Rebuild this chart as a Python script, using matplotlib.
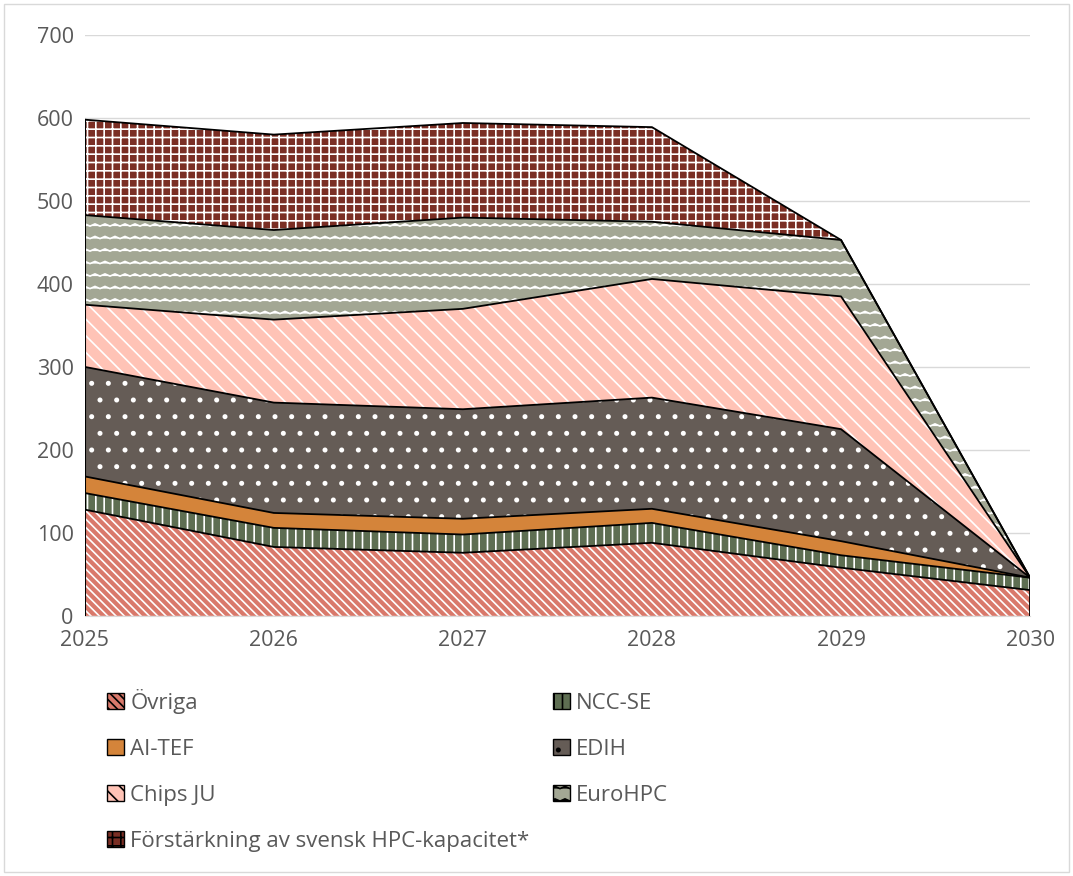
import matplotlib
matplotlib.use("Agg")
import matplotlib.pyplot as plt
import numpy as np
from matplotlib.patches import Patch
from matplotlib import hatch as mhatch
from matplotlib.path import Path

years = [2025, 2026, 2027, 2028, 2029, 2030]
ovriga = [128, 83, 76, 88, 58, 31]
ncc_se = [20, 23, 22, 24, 15, 15]
ai_tef = [20, 18, 19, 17, 17, 0]
edih = [132, 133, 132, 134, 135, 0]
chips_ju = [75, 100, 121, 143, 160, 0]
eurohpc = [108, 108, 110, 69, 68, 0]
forstarkning = [115, 115, 114, 114, 0, 0]

labels = ["Övriga", "NCC-SE", "AI-TEF", "EDIH", "Chips JU", "EuroHPC",
          "Förstärkning av svensk HPC-kapacitet*"]
series = [ovriga, ncc_se, ai_tef, edih, chips_ju, eurohpc, forstarkning]
colors = ["#D9796B", "#5E6E52", "#D4843A", "#655C56", "#FFC3B6", "#A3A794", "#7A2E24"]
hatches = ["\\\\\\\\", "||", "", ".", "\\\\", "*", "++"]


# custom zigzag hatch (replaces the '*' star hatch)
class ZigZagHatch(mhatch.HatchPatternBase):
    nlines = 8
    nper = 10
    amp = 0.011

    def __init__(self, hatch, density):
        self.on = hatch.count('*') > 0
        self.npts = 2 * self.nper + 1
        self.num_vertices = (self.nlines + 1) * self.npts if self.on else 0

    def set_vertices_and_codes(self, vertices, codes):
        xs = np.linspace(0, 1, self.npts)
        offs = np.array([(-self.amp if i % 2 == 0 else self.amp) for i in range(self.npts)])
        k = 0
        for j in range(self.nlines + 1):
            y0 = j / self.nlines
            for i in range(self.npts):
                vertices[k] = (xs[i], y0 + offs[i])
                codes[k] = Path.MOVETO if i == 0 else Path.LINETO
                k += 1


mhatch._hatch_types = [h for h in mhatch._hatch_types if h is not mhatch.Stars]
mhatch._hatch_types.append(ZigZagHatch)

plt.rcParams['font.family'] = ['Open Sans', 'DejaVu Sans']
plt.rcParams['hatch.linewidth'] = 1.2

fig = plt.figure(figsize=(10.73, 8.76), dpi=100)
ax = fig.add_axes([0.079, 0.297, 0.881, 0.663])

x = np.array(years)
base = np.zeros(len(x))
for vals, col, h in zip(series, colors, hatches):
    top = base + np.array(vals)
    ax.fill_between(x, base, top, facecolor=col, edgecolor="white", hatch=h,
                    linewidth=0, zorder=2)
    base = top

# outlines
base = np.zeros(len(x))
for vals in series:
    top = base + np.array(vals)
    ax.plot(x, top, color="black", linewidth=1.3, zorder=3)
    base = top
ax.plot([x[0], x[0]], [0, base[0]], color="black", linewidth=1.5, zorder=3)
ax.plot([x[-1], x[-1]], [0, base[-1]], color="black", linewidth=1.3, zorder=3)

ax.set_xlim(2025, 2030)
ax.set_ylim(0, 700)
ax.set_yticks(range(0, 701, 100))
ax.set_xticks(years)
ax.grid(axis="y", color="#D9D9D9", linewidth=1, zorder=0)
ax.set_axisbelow(True)
for s in ["top", "right", "left"]:
    ax.spines[s].set_visible(False)
ax.spines["bottom"].set_color("#D9D9D9")
ax.spines["bottom"].set_zorder(1)
ax.tick_params(axis="both", length=0, labelsize=15.5, colors="#595959", pad=8)
ax.tick_params(axis="x", pad=10)

handles = [Patch(facecolor=c, edgecolor="black", hatch=h, linewidth=1) for c, h in zip(colors, hatches)]
kw = dict(loc="upper left", frameon=False, fontsize=16, labelcolor="#595959",
          handlelength=0.75, handleheight=0.75, handletextpad=0.3,
          labelspacing=1.12, borderpad=0, borderaxespad=0)
leg1 = fig.legend([handles[i] for i in [0, 2, 4, 6]], [labels[i] for i in [0, 2, 4, 6]],
                  bbox_to_anchor=(0.0997, 0.2135), **kw)
leg2 = fig.legend([handles[i] for i in [1, 3, 5]], [labels[i] for i in [1, 3, 5]],
                  bbox_to_anchor=(0.5154, 0.2089), **kw)

fig.patches.append(plt.Rectangle((0.004, 0.004), 0.992, 0.992, transform=fig.transFigure,
                                 fill=False, edgecolor="#D9D9D9", linewidth=1))

fig.savefig("out.png", dpi=100)
